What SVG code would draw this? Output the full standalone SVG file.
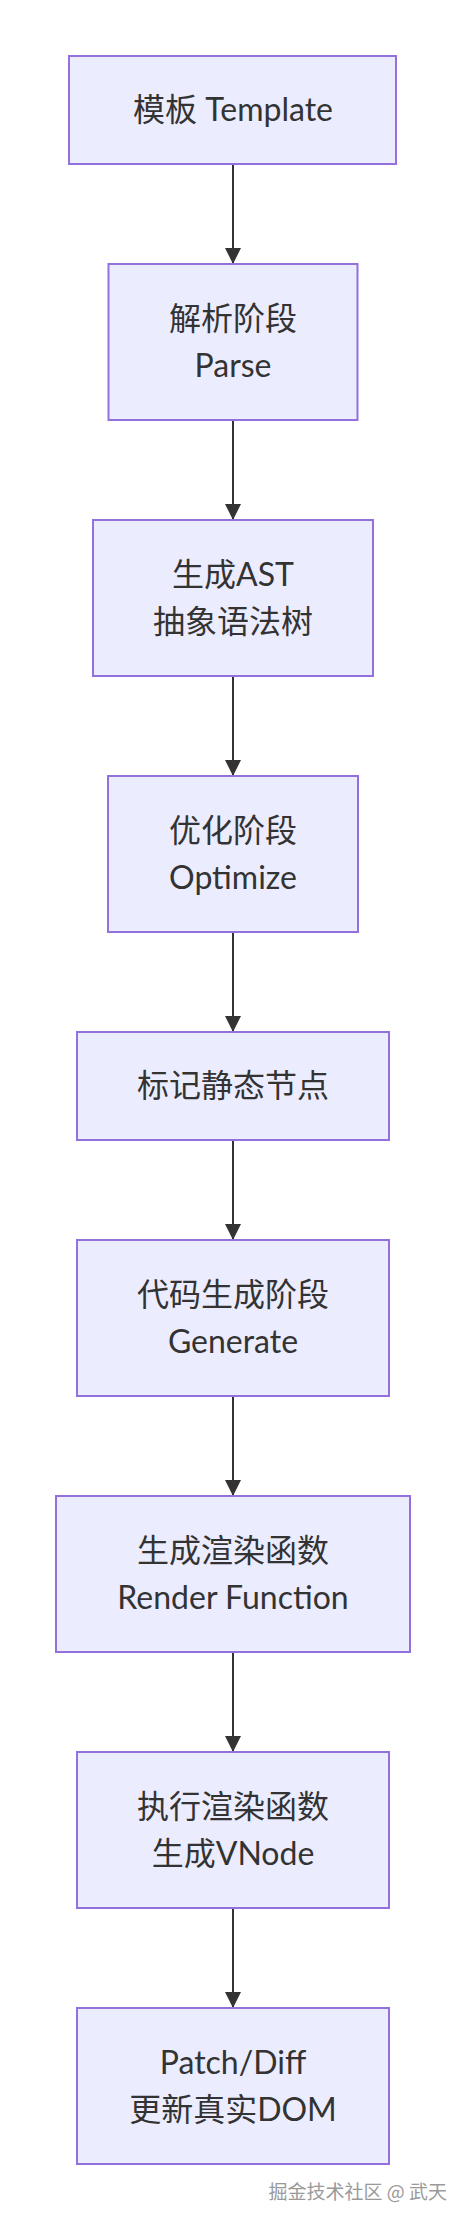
<svg xmlns="http://www.w3.org/2000/svg" width="465" height="2220" viewBox="0 0 465 2220">
<style>
.node rect{fill:#ECECFF;stroke:#9370DB;stroke-width:2}
.node text{font-family:Lato,"Noto Sans CJK SC",sans-serif;font-size:32px;fill:#333;text-anchor:middle}
.edge{stroke:#333;stroke-width:2;fill:none}
.wm{font-family:"Noto Sans CJK SC",sans-serif;font-size:19px;fill:#9a9a9a;text-anchor:end}
</style>
<defs>
<marker id="arrow" markerUnits="userSpaceOnUse" markerWidth="16" markerHeight="16" viewBox="0 0 16 16" refX="16" refY="8" orient="auto">
<path d="M0,0 L16,8 L0,16 z" fill="#333"/>
</marker>
</defs>
<rect width="465" height="2220" fill="#fff"/>
<g id="edges">
<line class="edge" x1="233" y1="164" x2="233" y2="264" marker-end="url(#arrow)"/>
<line class="edge" x1="233" y1="420" x2="233" y2="520" marker-end="url(#arrow)"/>
<line class="edge" x1="233" y1="676" x2="233" y2="776" marker-end="url(#arrow)"/>
<line class="edge" x1="233" y1="932" x2="233" y2="1032" marker-end="url(#arrow)"/>
<line class="edge" x1="233" y1="1140" x2="233" y2="1240" marker-end="url(#arrow)"/>
<line class="edge" x1="233" y1="1396" x2="233" y2="1496" marker-end="url(#arrow)"/>
<line class="edge" x1="233" y1="1652" x2="233" y2="1752" marker-end="url(#arrow)"/>
<line class="edge" x1="233" y1="1908" x2="233" y2="2008" marker-end="url(#arrow)"/>
</g>
<g id="n1" class="node"><rect x="69" y="56" width="327" height="108"/><text x="233" y="121">模板 Template</text></g>
<g id="n2" class="node"><rect x="108.5" y="264" width="249" height="156"/><text x="233" y="329.5">解析阶段</text><text x="233" y="376.5">Parse</text></g>
<g id="n3" class="node"><rect x="93" y="520" width="280" height="156"/><text x="233" y="585.5">生成AST</text><text x="233" y="632.5">抽象语法树</text></g>
<g id="n4" class="node"><rect x="108" y="776" width="250" height="156"/><text x="233" y="841.5">优化阶段</text><text x="233" y="888.5">Optimize</text></g>
<g id="n5" class="node"><rect x="77" y="1032" width="312" height="108"/><text x="233" y="1097">标记静态节点</text></g>
<g id="n6" class="node"><rect x="77" y="1240" width="312" height="156"/><text x="233" y="1305.5">代码生成阶段</text><text x="233" y="1352.5">Generate</text></g>
<g id="n7" class="node"><rect x="56" y="1496" width="354" height="156"/><text x="233" y="1561.5">生成渲染函数</text><text x="233" y="1608.5">Render Function</text></g>
<g id="n8" class="node"><rect x="77" y="1752" width="312" height="156"/><text x="233" y="1817.5">执行渲染函数</text><text x="233" y="1864.5">生成VNode</text></g>
<g id="n9" class="node"><rect x="77" y="2008" width="312" height="156"/><text x="233" y="2073.5">Patch/Diff</text><text x="233" y="2120.5">更新真实DOM</text></g>
<text class="wm" x="447" y="2199">掘金技术社区 @ 武天</text>
</svg>
